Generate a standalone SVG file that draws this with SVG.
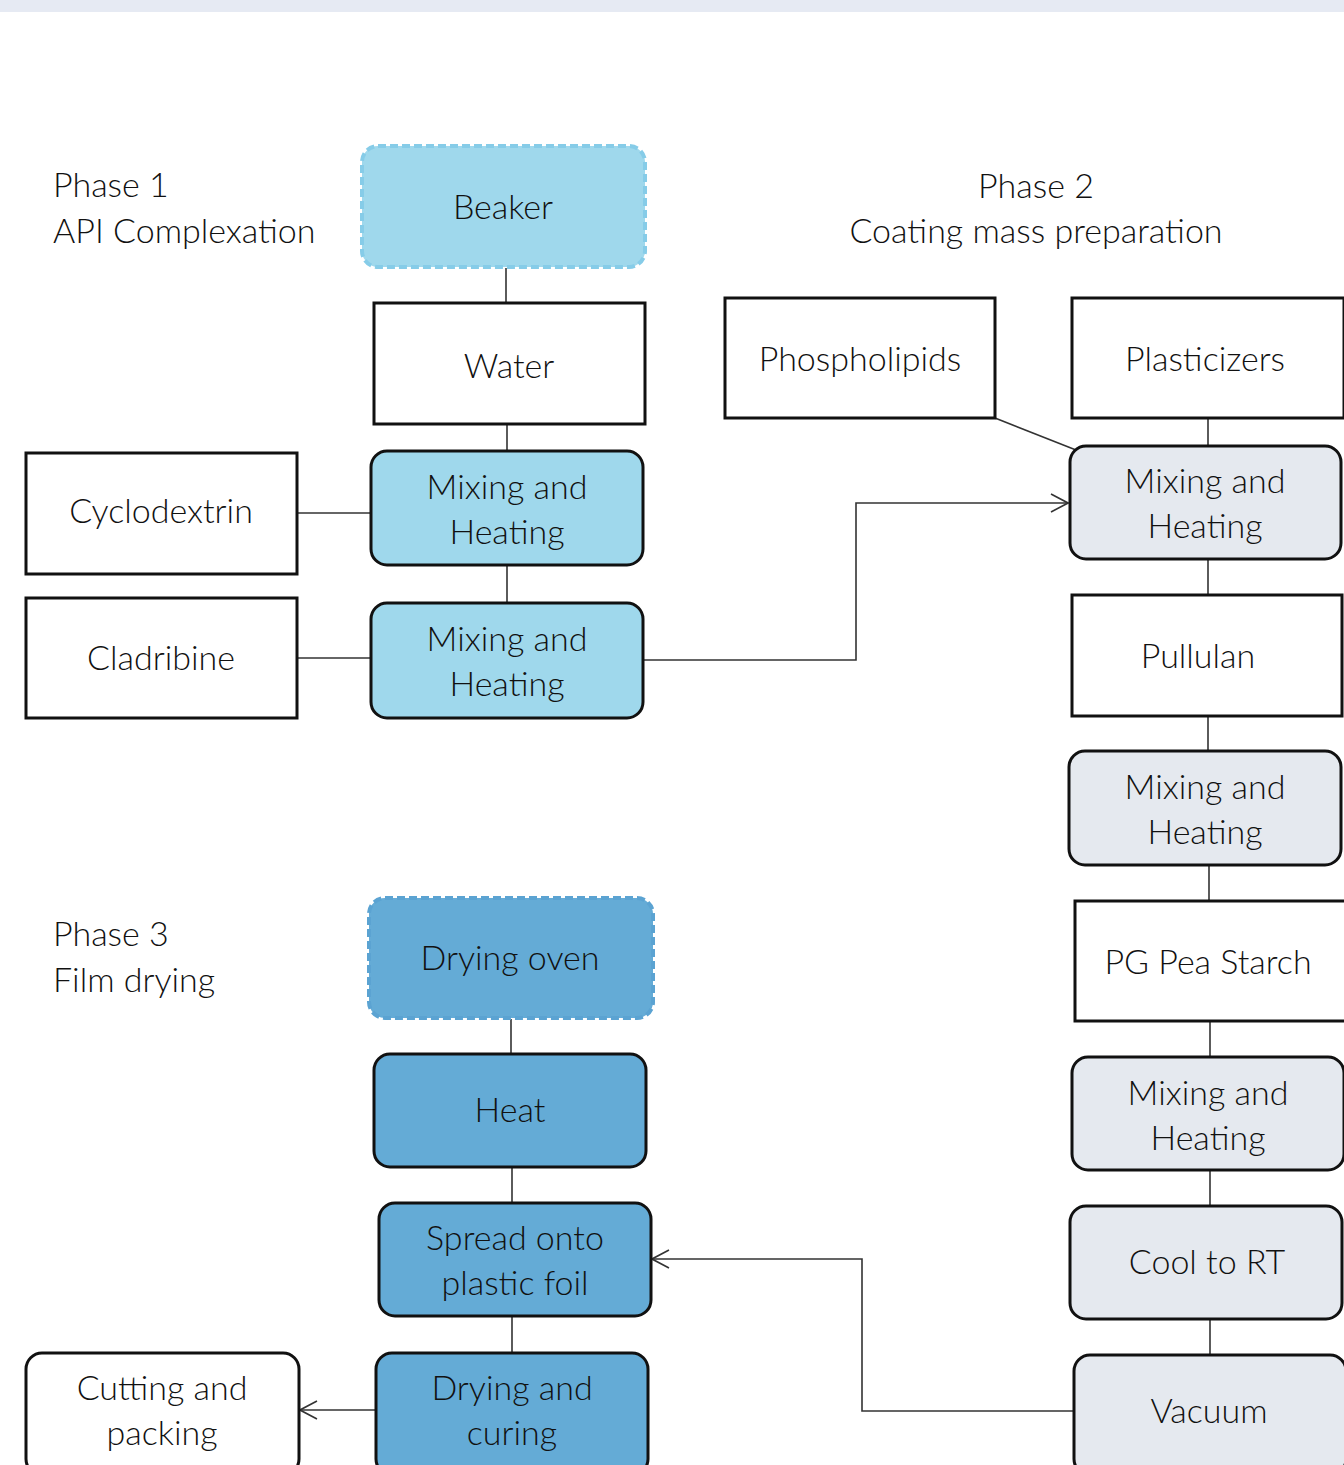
<svg xmlns="http://www.w3.org/2000/svg" width="1344" height="1465" viewBox="0 0 1344 1465">
<style>
.t{font-family:Lato,"Liberation Sans",sans-serif;font-size:34px;font-weight:300;fill:#111;text-anchor:middle}
.tl{font-family:Lato,"Liberation Sans",sans-serif;font-size:34px;font-weight:300;fill:#111}
.w{fill:#fff;stroke:#111;stroke-width:3}
.lb{fill:#9FD8EC;stroke:#111;stroke-width:3}
.gr{fill:#E5E9EF;stroke:#111;stroke-width:3}
.db{fill:#64ABD6;stroke:#111;stroke-width:3}
.c{fill:none;stroke:#333;stroke-width:1.6}
</style>
<defs>
<marker id="arr" viewBox="0 0 20 20" refX="19" refY="10" markerWidth="20" markerHeight="20" markerUnits="userSpaceOnUse" orient="auto">
<path d="M2,1 L19,10 L2,19" fill="none" stroke="#333" stroke-width="1.6"/>
</marker>
</defs>
<rect x="0" y="0" width="1344" height="1465" fill="#fff"/>
<rect x="0" y="0" width="1344" height="12" fill="#E6EAF3"/>

<g id="labels">
<text class="tl" x="53" y="197">Phase 1</text>
<text class="tl" x="53" y="243">API Complexation</text>
<text class="t" x="1036" y="198">Phase 2</text>
<text class="t" x="1036" y="243">Coating mass preparation</text>
<text class="tl" x="53" y="946">Phase 3</text>
<text class="tl" x="53" y="992">Film drying</text>
</g>

<g id="connectors">
<line class="c" x1="506" y1="268" x2="506" y2="303"/>
<line class="c" x1="507" y1="424" x2="507" y2="451"/>
<line class="c" x1="297" y1="513" x2="371" y2="513"/>
<line class="c" x1="507" y1="565" x2="507" y2="603"/>
<line class="c" x1="297" y1="658" x2="371" y2="658"/>
<polyline class="c" points="643,660 856,660 856,503 1068,503" marker-end="url(#arr)"/>
<line class="c" x1="995" y1="418" x2="1076" y2="450"/>
<line class="c" x1="1208" y1="418" x2="1208" y2="446"/>
<line class="c" x1="1208" y1="559" x2="1208" y2="595"/>
<line class="c" x1="1208" y1="716" x2="1208" y2="751"/>
<line class="c" x1="1209" y1="865" x2="1209" y2="901"/>
<line class="c" x1="1210" y1="1021" x2="1210" y2="1057"/>
<line class="c" x1="1210" y1="1170" x2="1210" y2="1206"/>
<line class="c" x1="1210" y1="1319" x2="1210" y2="1355"/>
<polyline class="c" points="1074,1411 862,1411 862,1259 652,1259" marker-end="url(#arr)"/>
<line class="c" x1="511" y1="1019" x2="511" y2="1054"/>
<line class="c" x1="512" y1="1167" x2="512" y2="1203"/>
<line class="c" x1="512" y1="1316" x2="512" y2="1353"/>
<line class="c" x1="376" y1="1410" x2="300" y2="1410" marker-end="url(#arr)"/>
</g>

<g id="beaker">
<rect x="362" y="146" width="283" height="121" rx="16" fill="#9FD8EC" stroke="#86CCE8" stroke-width="4" stroke-dasharray="8 4"/>
<text class="t" x="503" y="219">Beaker</text>
</g>
<g id="water">
<rect class="w" x="374" y="303" width="271" height="121"/>
<text class="t" x="509" y="378">Water</text>
</g>
<g id="cyclodextrin">
<rect class="w" x="26" y="453" width="271" height="121"/>
<text class="t" x="161" y="523">Cyclodextrin</text>
</g>
<g id="mix1">
<rect class="lb" x="371" y="451" width="272" height="114" rx="16"/>
<text class="t" x="507" y="499">Mixing and</text>
<text class="t" x="507" y="544">Heating</text>
</g>
<g id="cladribine">
<rect class="w" x="26" y="598" width="271" height="120"/>
<text class="t" x="161" y="670">Cladribine</text>
</g>
<g id="mix2">
<rect class="lb" x="371" y="603" width="272" height="115" rx="16"/>
<text class="t" x="507" y="651">Mixing and</text>
<text class="t" x="507" y="696">Heating</text>
</g>

<g id="phospholipids">
<rect class="w" x="725" y="298" width="270" height="120"/>
<text class="t" x="860" y="371">Phospholipids</text>
</g>
<g id="plasticizers">
<rect class="w" x="1072" y="298" width="272" height="120"/>
<text class="t" x="1205" y="371">Plasticizers</text>
</g>
<g id="mix3">
<rect class="gr" x="1070" y="446" width="271" height="113" rx="16"/>
<text class="t" x="1205" y="493">Mixing and</text>
<text class="t" x="1205" y="538">Heating</text>
</g>
<g id="pullulan">
<rect class="w" x="1072" y="595" width="270" height="121"/>
<text class="t" x="1198" y="668">Pullulan</text>
</g>
<g id="mix4">
<rect class="gr" x="1069" y="751" width="272" height="114" rx="16"/>
<text class="t" x="1205" y="799">Mixing and</text>
<text class="t" x="1205" y="844">Heating</text>
</g>
<g id="pgpea">
<rect class="w" x="1075" y="901" width="272" height="120"/>
<text class="t" x="1208" y="974">PG Pea Starch</text>
</g>
<g id="mix5">
<rect class="gr" x="1072" y="1057" width="272" height="113" rx="16"/>
<text class="t" x="1208" y="1105">Mixing and</text>
<text class="t" x="1208" y="1150">Heating</text>
</g>
<g id="cool">
<rect class="gr" x="1070" y="1206" width="272" height="113" rx="16"/>
<text class="t" x="1207" y="1274">Cool to RT</text>
</g>
<g id="vacuum">
<rect class="gr" x="1074" y="1355" width="272" height="120" rx="16"/>
<text class="t" x="1209" y="1423">Vacuum</text>
</g>

<g id="dryingoven">
<rect x="369" y="898" width="284" height="120" rx="16" fill="#64ABD6" stroke="#5BA3D2" stroke-width="4" stroke-dasharray="8 4"/>
<text class="t" x="510" y="970">Drying oven</text>
</g>
<g id="heat">
<rect class="db" x="374" y="1054" width="272" height="113" rx="16"/>
<text class="t" x="510" y="1122">Heat</text>
</g>
<g id="spread">
<rect class="db" x="379" y="1203" width="272" height="113" rx="16"/>
<text class="t" x="515" y="1250">Spread onto</text>
<text class="t" x="515" y="1295">plastic foil</text>
</g>
<g id="drying">
<rect class="db" x="376" y="1353" width="272" height="122" rx="16"/>
<text class="t" x="512" y="1400">Drying and</text>
<text class="t" x="512" y="1445">curing</text>
</g>
<g id="cutting">
<rect class="w" x="26" y="1353" width="273" height="122" rx="16"/>
<text class="t" x="162" y="1400">Cutting and</text>
<text class="t" x="162" y="1445">packing</text>
</g>
</svg>
